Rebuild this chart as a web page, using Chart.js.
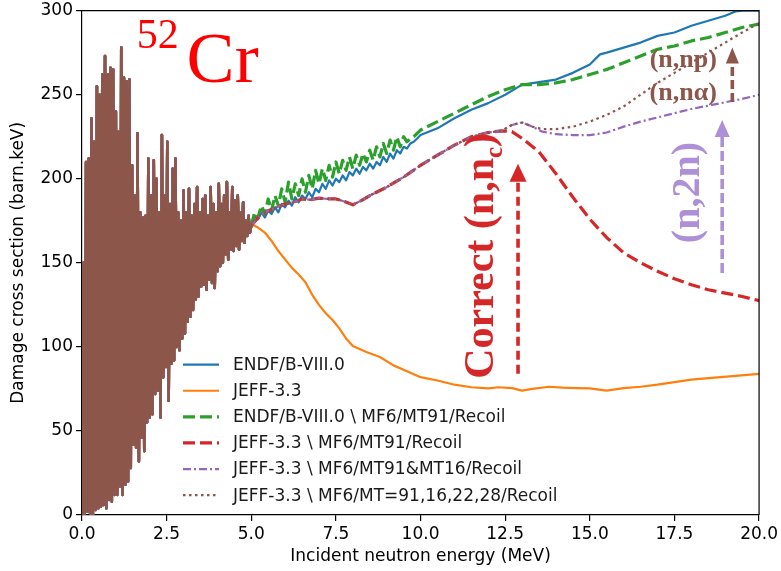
<!DOCTYPE html>
<html>
<head>
<meta charset="utf-8">
<title>52Cr damage cross section</title>
<script src="https://cdn.jsdelivr.net/npm/chart.js@4.4.1/dist/chart.umd.min.js"></script>
<style>
  html, body { margin: 0; padding: 0; background: #fff; }
  #wrap { position: relative; width: 781px; height: 571px; }
</style>
</head>
<body>
<div id="wrap"><canvas id="chart"></canvas></div>
<script>
// ---------------------------------------------------------------------------
// Data (damage cross section in barn.keV vs incident neutron energy in MeV)
// ---------------------------------------------------------------------------

// Resolved-resonance region, common to every evaluation: values on a 0.04 MeV
// grid starting at 0 MeV (alternating dips and resonance peaks).
const RES_STEP = 0.04;
const RES_END = 5.0;
const resonanceXS = [
  0, 150, 0, 210, 2, 212, 1, 236, 0, 222, 3, 255, 4, 250, 5, 262, 6, 273, 4, 262,
  9, 266, 8, 265, 12, 240, 12, 228, 17, 278, 12, 260, 18, 258, 20, 259, 28, 208,
  42, 190, 40, 227, 32, 180, 46, 177, 38, 178, 55, 212, 58, 190, 60, 211, 72, 200,
  74, 180, 58, 226, 82, 190, 88, 222, 68, 185, 90, 206, 92, 212, 100, 180, 98, 175,
  105, 193, 108, 180, 115, 194, 118, 178, 122, 185, 128, 195, 130, 180, 136, 188,
  137, 190, 134, 178, 140, 195, 138, 185, 135, 180, 145, 197, 148, 185, 150, 190,
  155, 198, 152, 180, 158, 195, 157, 187, 160, 190, 158, 180, 163, 186, 162, 175,
  166, 178, 168
];

// Fluctuating ENDF region, 0.1 MeV grid starting at 5.0 MeV
const NOISY_START = 5.0;
const NOISY_STEP = 0.1;
const endfNoisyXS = [
  172, 178, 176, 180, 177, 181, 179, 183, 180, 185, 183, 187, 184, 189, 186, 190,
  188, 192, 189, 194, 192, 197, 194, 199, 196, 200, 198, 202, 199, 204, 202, 206,
  203, 207, 205, 209, 206, 210, 208, 213, 210, 215, 212, 217, 215, 219, 218, 221,
  222, 224, 226
];
const endfMT91NoisyXS = [
  172, 180, 177, 184, 179, 188, 181, 190, 184, 194, 186, 198, 188, 197, 190, 200,
  192, 202, 194, 205, 197, 206, 199, 208, 201, 210, 203, 211, 205, 213, 206, 214,
  208, 215, 210, 217, 211, 219, 213, 221, 215, 223, 217, 225, 219, 225, 222, 224,
  225, 227, 229
];

// ENDF/B-VIII.0 above 10 MeV
const endfTailE  = [10.5, 11, 11.5, 12, 12.5, 13, 13.5, 14, 14.5, 15, 15.3, 15.5, 16, 16.5, 17, 17.5, 18, 18.5, 19, 19.3, 19.5, 20];
const endfTailXS = [230, 236, 241, 245, 250, 256, 257.5, 259, 263, 268, 274, 275, 278, 281, 285, 287, 291, 294, 297, 299.5, 300, 300];

// ENDF/B-VIII.0 \ MF6/MT91/Recoil above 10 MeV
const endfMT91TailE  = [10.5, 11, 11.5, 12, 12.5, 13, 13.5, 14, 14.5, 15, 15.5, 16, 16.5, 17, 17.5, 18, 18.5, 19, 19.5, 20];
const endfMT91TailXS = [234, 239, 244, 249, 253, 256, 256, 257, 259, 262, 265, 269, 273, 277, 279, 282, 284, 287, 290, 292];

// JEFF-3.3 above 5 MeV
const jeffE  = [5.0, 5.2, 5.4, 5.6, 5.8, 6.0, 6.2, 6.4, 6.6, 6.8, 7.0, 7.2, 7.4, 7.6, 7.8, 8.0,
                8.4, 8.8, 9.2, 9.6, 10.0, 10.5, 11.0, 11.5, 12.0, 12.3, 12.7, 13.0, 13.3, 13.8,
                14.2, 14.6, 15.0, 15.5, 16.0, 16.5, 17.0, 17.5, 18.0, 18.6, 19.3, 20.0];
const jeffXS = [173, 171, 168, 163, 157, 152, 147, 143, 138.5, 131, 125, 120, 116, 111, 105, 100.5,
                97, 94, 89, 85.5, 82, 80, 77.5, 76, 75.3, 76, 75.5, 74, 75, 76.3,
                75.8, 75.5, 75.3, 74, 75.5, 76.3, 77.5, 79, 80.5, 81.6, 82.8, 84];

// JEFF-3.3 with recoil-corrected channels: shared part from 5 to 12.4 MeV
const jeffBaseE  = [5.0, 5.25, 5.5, 5.75, 6.0, 6.25, 6.5, 6.75, 7.0, 7.25, 7.5, 7.75, 8.0, 8.25, 8.5,
                    9.0, 9.5, 10.0, 10.5, 11.0, 11.5, 12.0, 12.4];
const jeffBaseXS = [172, 178, 181, 183, 185, 186, 188, 187.5, 188.5, 188, 188, 186.5, 184.5, 187, 190,
                    195, 201, 208, 214, 220, 225, 227.5, 228.5];

// JEFF-3.3 \ MF6/MT91/Recoil
const jeffMT91TailE  = [12.7, 13.0, 13.5, 14.0, 14.5, 15.0, 15.5, 16.0, 16.5, 17.0, 17.5, 18.0, 18.5, 19.0, 19.5, 20.0];
const jeffMT91TailXS = [228, 224, 216, 203, 189, 176, 165, 156, 150, 145, 140.5, 137, 134, 132, 130, 127.5];

// JEFF-3.3 \ MF6/MT91&MT16/Recoil
const jeffMT16TailE  = [12.7, 13.0, 13.3, 13.6, 14.0, 14.5, 15.0, 15.5, 16.0, 16.5, 17.0, 17.5, 18.0, 18.5, 19.0, 19.5, 20.0];
const jeffMT16TailXS = [232, 233.5, 231, 228, 226.5, 226, 226, 227.5, 231, 234, 236.5, 239, 241.5, 243.5, 245.5, 247.5, 250];

// JEFF-3.3 \ MF6/MT=91,16,22,28/Recoil
const jeffMT28TailE  = [12.7, 13.0, 13.3, 13.6, 14.0, 14.5, 15.0, 15.5, 16.0, 16.5, 17.0, 17.5, 18.0, 18.5, 19.0, 19.5, 20.0];
const jeffMT28TailXS = [232, 233.5, 231, 229.5, 229.5, 231, 234, 238, 243, 250, 257, 263, 269, 275, 281, 287, 292.5];

const seriesLabels = [
  'ENDF/B-VIII.0',
  'JEFF-3.3',
  'ENDF/B-VIII.0 \\ MF6/MT91/Recoil',
  'JEFF-3.3 \\ MF6/MT91/Recoil',
  'JEFF-3.3 \\ MF6/MT91&MT16/Recoil',
  'JEFF-3.3 \\ MF6/MT=91,16,22,28/Recoil'
];

const xTicks = [0, 2.5, 5, 7.5, 10, 12.5, 15, 17.5, 20];
const yTicks = [0, 50, 100, 150, 200, 250, 300];

// ---------------------------------------------------------------------------
// Point builders
// ---------------------------------------------------------------------------
function resonancePoints() {
  return resonanceXS.map((v, i) => ({ x: +(i * RES_STEP).toFixed(2), y: v }));
}
function gridPoints(start, step, values) {
  return values.map((v, i) => ({ x: +(start + i * step).toFixed(2), y: v }));
}
function pairPoints(es, vs) {
  return es.map((e, i) => ({ x: e, y: vs[i] }));
}

const styles = [
  { color: '#1f77b4', width: 2.2, dash: [] },
  { color: '#ff7f0e', width: 2.2, dash: [] },
  { color: '#2ca02c', width: 3.2, dash: [12, 5] },
  { color: '#d62728', width: 3.2, dash: [12, 5] },
  { color: '#9467bd', width: 2.2, dash: [8, 3, 2, 3] },
  { color: '#8c564b', width: 2.2, dash: [2.5, 3.5] }
];

const seriesPoints = [
  resonancePoints().concat(gridPoints(NOISY_START, NOISY_STEP, endfNoisyXS), pairPoints(endfTailE, endfTailXS)),
  resonancePoints().concat(pairPoints(jeffE, jeffXS)),
  resonancePoints().concat(gridPoints(NOISY_START, NOISY_STEP, endfMT91NoisyXS), pairPoints(endfMT91TailE, endfMT91TailXS)),
  resonancePoints().concat(pairPoints(jeffBaseE, jeffBaseXS), pairPoints(jeffMT91TailE, jeffMT91TailXS)),
  resonancePoints().concat(pairPoints(jeffBaseE, jeffBaseXS), pairPoints(jeffMT16TailE, jeffMT16TailXS)),
  resonancePoints().concat(pairPoints(jeffBaseE, jeffBaseXS), pairPoints(jeffMT28TailE, jeffMT28TailXS))
];

// In the dense resonance zigzag the overlapping strokes merge into one band,
// so segments there are stroked solid and slightly wider.
const inResonance = c => c.p1.parsed.x <= RES_END;

const datasets = seriesPoints.map((pts, i) => ({
  label: seriesLabels[i],
  data: pts,
  borderColor: styles[i].color,
  backgroundColor: styles[i].color,
  borderWidth: styles[i].width,
  borderDash: styles[i].dash,
  borderJoinStyle: 'round',
  pointRadius: 0,
  tension: 0,
  fill: false,
  segment: {
    borderDash: c => (inResonance(c) ? [] : undefined),
    borderWidth: c => (inResonance(c) ? 2.6 : undefined)
  },
  // later series are painted over earlier ones
  order: seriesLabels.length - i
}));

// ---------------------------------------------------------------------------
// Drawing helpers
// ---------------------------------------------------------------------------
const TICK_FONT = '"DejaVu Sans", "Liberation Sans", sans-serif';
const SERIF = '"Liberation Serif", "Times New Roman", serif';

function dashedArrow(ctx, x, yTail, yTip, color, lw, dash, headW, headH) {
  ctx.save();
  ctx.strokeStyle = color;
  ctx.fillStyle = color;
  ctx.lineWidth = lw;
  ctx.setLineDash(dash);
  ctx.beginPath();
  ctx.moveTo(x, yTail);
  ctx.lineTo(x, yTip + headH);
  ctx.stroke();
  ctx.setLineDash([]);
  ctx.beginPath();
  ctx.moveTo(x, yTip);
  ctx.lineTo(x - headW / 2, yTip + headH);
  ctx.lineTo(x + headW / 2, yTip + headH);
  ctx.closePath();
  ctx.fill();
  ctx.restore();
}

const decorations = {
  id: 'decorations',
  afterDraw(chart) {
    const { ctx, chartArea: ca, scales } = chart;
    const X = v => scales.x.getPixelForValue(v);
    const Y = v => scales.y.getPixelForValue(v);

    // top and right spines
    ctx.save();
    ctx.strokeStyle = '#000';
    ctx.lineWidth = 1.2;
    ctx.beginPath();
    ctx.moveTo(ca.left, ca.top);
    ctx.lineTo(ca.right, ca.top);
    ctx.lineTo(ca.right, ca.bottom);
    ctx.stroke();
    ctx.restore();

    // legend (no frame), lower-left inside the axes
    ctx.save();
    ctx.font = '17px ' + TICK_FONT;
    ctx.textBaseline = 'middle';
    ctx.textAlign = 'left';
    const lx0 = ca.left + 101, lx1 = ca.left + 137, tx = ca.left + 151;
    seriesLabels.forEach((lab, i) => {
      const ry = ca.top + 354 + i * 26.1;
      ctx.strokeStyle = styles[i].color;
      ctx.lineWidth = styles[i].width;
      ctx.setLineDash(styles[i].dash);
      ctx.beginPath();
      ctx.moveTo(lx0, ry);
      ctx.lineTo(lx1, ry);
      ctx.stroke();
      ctx.setLineDash([]);
      ctx.fillStyle = '#1a1a1a';
      ctx.fillText(lab, tx, ry + 1);
    });
    ctx.restore();

    // isotope tag
    ctx.save();
    ctx.fillStyle = '#ff0000';
    ctx.textBaseline = 'alphabetic';
    ctx.textAlign = 'left';
    ctx.font = '42px ' + SERIF;
    ctx.fillText('52', X(1.62), Y(277.5));
    ctx.font = '72px ' + SERIF;
    ctx.fillText('Cr', X(3.09), Y(257.4));
    ctx.restore();

    // inelastic-continuum correction
    dashedArrow(ctx, X(12.88), Y(84), Y(209), '#d62728', 3.6, [9, 5], 17, 18);
    ctx.save();
    ctx.translate(X(12.15), Y(81));
    ctx.rotate(-Math.PI / 2);
    ctx.fillStyle = '#d62728';
    ctx.textBaseline = 'alphabetic';
    ctx.font = 'bold 42px ' + SERIF;
    let w = 0;
    ctx.fillText('Correct (n,n', 0, 0);
    w += ctx.measureText('Correct (n,n').width;
    ctx.font = 'bold 25px ' + SERIF;
    ctx.fillText('c', w, 9);
    w += ctx.measureText('c').width;
    ctx.font = 'bold 42px ' + SERIF;
    ctx.fillText(')', w, 0);
    ctx.restore();

    // (n,2n)
    dashedArrow(ctx, X(18.91), Y(144), Y(235), '#ae90d6', 3.6, [10, 4], 15, 17);
    ctx.save();
    ctx.translate(X(18.24), Y(161.7));
    ctx.rotate(-Math.PI / 2);
    ctx.fillStyle = '#ae90d6';
    ctx.textBaseline = 'alphabetic';
    ctx.font = 'bold 40px ' + SERIF;
    ctx.fillText('(n,2n)', 0, 0);
    ctx.restore();

    // (n,np) and (n,nα)
    dashedArrow(ctx, X(19.21), Y(245.6), Y(278.1), '#8c564b', 3.6, [9, 4], 13, 16);
    ctx.save();
    ctx.fillStyle = '#8c564b';
    ctx.textBaseline = 'alphabetic';
    ctx.textAlign = 'center';
    ctx.font = 'bold 26px ' + SERIF;
    ctx.fillText('(n,np)', X(17.76), Y(266.3));
    ctx.fillText('(n,n\u03b1)', X(17.76), Y(246.7));
    ctx.restore();
  }
};

// ---------------------------------------------------------------------------
// Chart
// ---------------------------------------------------------------------------
new Chart(document.getElementById('chart'), {
  type: 'line',
  data: { datasets },
  options: {
    responsive: true,
    maintainAspectRatio: false,
    animation: false,
    devicePixelRatio: 1,
    parsing: false,
    normalized: true,
    layout: { padding: { top: 8, right: 19, left: 0, bottom: 0 } },
    plugins: { legend: { display: false }, tooltip: { enabled: false } },
    scales: {
      x: {
        type: 'linear',
        min: 0, max: 20,
        afterBuildTicks: s => { s.ticks = xTicks.map(v => ({ value: v })); },
        afterFit: s => { s.height = 56; },
        ticks: {
          font: { family: TICK_FONT, size: 17, lineHeight: 1.2 },
          color: '#000',
          padding: 3,
          maxRotation: 0,
          callback: v => Number(v).toFixed(1)
        },
        grid: { drawOnChartArea: false, drawTicks: true, tickLength: 6, color: '#000', lineWidth: 1.2 },
        border: { display: true, color: '#000', width: 1.2 },
        title: {
          display: true,
          text: 'Incident neutron energy (MeV)',
          font: { family: TICK_FONT, size: 17, lineHeight: 1.2 },
          color: '#000',
          padding: { top: 0, bottom: 4 }
        }
      },
      y: {
        type: 'linear',
        min: 0, max: 300,
        afterBuildTicks: s => { s.ticks = yTicks.map(v => ({ value: v })); },
        afterFit: s => { s.width = 82; },
        ticks: {
          font: { family: TICK_FONT, size: 17, lineHeight: 0.9 },
          color: '#000',
          padding: 3,
          callback: v => String(v)
        },
        grid: { drawOnChartArea: false, drawTicks: true, tickLength: 6, color: '#000', lineWidth: 1.2 },
        border: { display: true, color: '#000', width: 1.2 },
        title: {
          display: true,
          text: 'Damage cross section (barn.keV)',
          font: { family: TICK_FONT, size: 17, lineHeight: 1.2 },
          color: '#000',
          padding: { top: 8, bottom: 0 }
        }
      }
    }
  },
  plugins: [decorations]
});
</script>
</body>
</html>
